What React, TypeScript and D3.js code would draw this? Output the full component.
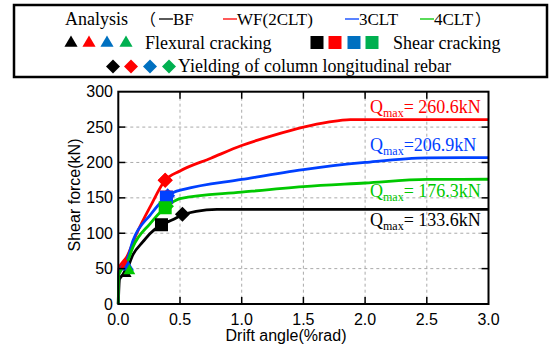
import React from 'react';
import * as d3 from 'd3';

// series (drift angle %rad, shear force kN)
const bfX = [0, 0.01, 0.06, 0.12, 0.2, 0.26, 0.35, 0.44, 0.52, 0.63, 0.8, 1.0, 3.0];
const bfY = [0, 35, 45, 70, 88, 100, 112, 119, 126, 131, 133.6, 133.6, 133.6];
const wfX = [0, 0.005, 0.07, 0.15, 0.26, 0.38, 0.5, 0.75, 1.0, 1.25, 1.5, 1.7, 1.88, 3.0];
const wfY = [0, 50, 67, 100, 138, 175, 188, 206, 224, 238, 250, 257, 260.6, 260.6];
const clt3X = [0, 0.005, 0.07, 0.12, 0.26, 0.36, 0.42, 0.45, 0.53, 1.0, 1.5, 2.0, 2.5, 3.0];
const clt3Y = [0, 45, 62, 90, 126, 146, 153, 158, 162, 176, 190, 200, 206.5, 206.9];
const clt4X = [0, 0.005, 0.07, 0.12, 0.26, 0.33, 0.4, 0.45, 0.5, 1.0, 1.5, 2.0, 2.5, 3.0];
const clt4Y = [0, 42, 58, 81, 114, 128, 138, 145, 149, 158, 166, 171, 176, 176.3];

const seriesNames = ['BF', 'WF(2CLT)', '3CLT', '4CLT'];
const lineColors = ['#000000', '#ff0000', '#0040ff', '#00c800'];
const markColors = ['#000000', '#ff0000', '#0070c0', '#00b050'];

// event markers, order BF, WF, 3CLT, 4CLT
const flexX = [0.06, 0.06, 0.08, 0.09];
const flexY = [43, 55, 52, 47];
const shearX = [0.35, 0.39, 0.39, 0.38];
const shearY = [112, 151, 151, 136];
const yieldX = [0.52, 0.38, 0.4, 0.39];
const yieldY = [127, 175, 153, 138];

const qmaxLabels = ['= 133.6kN', '= 260.6kN', '=206.9kN', '= 176.3kN'];
const qLabelY = [110, 270, 216.5, 151];
const xTicks = [0, 0.5, 1.0, 1.5, 2.0, 2.5, 3.0];
const yTicks = [0, 50, 100, 150, 200, 250, 300];

const sans = '"Liberation Sans", Arial, sans-serif';
const serif = '"Liberation Serif", "Times New Roman", serif';
const cjk = '"Noto Sans CJK SC", serif';

export default function App() {
  const x = d3.scaleLinear().domain([0, 3]).range([118.3, 488.5]);
  const y = d3.scaleLinear().domain([0, 300]).range([304, 91.7]);
  const line = d3.line<[number, number]>()
    .x(d => x(d[0]))
    .y(d => y(d[1]))
    .curve(d3.curveMonotoneX);

  const series = [
    d3.zip(bfX, bfY),
    d3.zip(wfX, wfY),
    d3.zip(clt3X, clt3Y),
    d3.zip(clt4X, clt4Y),
  ] as [number, number][][];

  const tri = d3.symbol().type(d3.symbolTriangle).size(75)();
  const tri2 = d3.symbol().type(d3.symbolTriangle).size(60)();
  const dia = (s: number) => `M0,${-s}L${s},0L0,${s}L${-s},0Z`;

  const [x0, x1] = x.range();
  const [y0, y1] = y.range();

  return (
    <svg width={549} height={350} style={{ position: 'absolute', left: 0, top: 0, background: '#fff' }}>
      {/* legend box */}
      <rect x={14} y={5} width={533} height={72} fill="none" stroke="#000" strokeWidth={2.5} />
      <g fontFamily={serif} fontSize={18}>
        <text x={65} y={25}>Analysis</text>
        <text x={140} y={25} fontFamily={cjk} fontSize={16}>（</text>
        {[159, 223, 345, 420].map((lx, i) => (
          <g key={i}>
            <line x1={lx} x2={lx + 14} y1={19} y2={19} stroke={lineColors[i]} strokeWidth={1.3} />
            <text x={lx + 14} y={25} fontSize={17}>{seriesNames[i]}</text>
          </g>
        ))}
        <text x={475} y={25} fontFamily={cjk} fontSize={16}>）</text>
        {[71, 89, 107, 126].map((cx, i) => (
          <path key={i} d={tri} transform={`translate(${cx},${43})`} fill={markColors[i]} />
        ))}
        <text x={145} y={49}>Flexural cracking</text>
        {[317, 335, 354, 372].map((cx, i) => (
          <rect key={i} x={cx - 6.5} y={36} width={13} height={13} fill={markColors[i]} />
        ))}
        <text x={393} y={49}>Shear cracking</text>
        {[113, 131, 150, 169].map((cx, i) => (
          <path key={i} d={dia(7)} transform={`translate(${cx},${66.5})`} fill={markColors[i]} />
        ))}
        <text x={178} y={72}>Yielding of column longitudinal rebar</text>
      </g>

      {/* grid */}
      {xTicks.slice(1, -1).map(t => (
        <line key={'gx' + t} x1={x(t)} x2={x(t)} y1={y1} y2={y0} stroke="#aaa" strokeDasharray="3,3" strokeWidth={1} />
      ))}
      {yTicks.slice(1, -1).map(t => (
        <line key={'gy' + t} x1={x0} x2={x1} y1={y(t)} y2={y(t)} stroke="#aaa" strokeDasharray="3,3" strokeWidth={1} />
      ))}

      {/* curves */}
      {series.map((s, i) => (
        <path key={i} d={line(s) ?? ''} fill="none" stroke={lineColors[i]} strokeWidth={2.8} />
      ))}

      {/* markers */}
      {flexX.map((fx, i) => (
        <path key={'f' + i} d={tri2} transform={`translate(${x(fx)},${y(flexY[i])})`} fill={lineColors[i]} />
      ))}
      {yieldX.map((yx, i) => (
        <path key={'y' + i} d={dia(7.5)} transform={`translate(${x(yx)},${y(yieldY[i])})`} fill={lineColors[i]} />
      ))}
      {shearX.map((sx, i) => (
        <rect key={'s' + i} x={x(sx) - 6.5} y={y(shearY[i]) - 6.5} width={13} height={13} fill={lineColors[i]} />
      ))}
      <path d={dia(7.5)} transform={`translate(${x(yieldX[1])},${y(yieldY[1])})`} fill={lineColors[1]} />

      {/* frame & ticks */}
      <rect x={x0} y={y1} width={x1 - x0} height={y0 - y1} fill="none" stroke="#000" strokeWidth={2} />
      {xTicks.slice(1, -1).map(t => (
        <g key={'tx' + t}>
          <line x1={x(t)} x2={x(t)} y1={y0} y2={y0 - 7} stroke="#000" strokeWidth={1.5} />
          <line x1={x(t)} x2={x(t)} y1={y1} y2={y1 + 7} stroke="#000" strokeWidth={1.5} />
        </g>
      ))}
      {yTicks.slice(1, -1).map(t => (
        <g key={'ty' + t}>
          <line x1={x0} x2={x0 + 7} y1={y(t)} y2={y(t)} stroke="#000" strokeWidth={1.5} />
          <line x1={x1} x2={x1 - 7} y1={y(t)} y2={y(t)} stroke="#000" strokeWidth={1.5} />
        </g>
      ))}

      {/* tick labels */}
      <g fontFamily={sans} fontSize={16} fill="#000">
        {xTicks.map(t => (
          <text key={'lx' + t} x={x(t)} y={325} textAnchor="middle">{t.toFixed(1)}</text>
        ))}
        {yTicks.map(t => (
          <text key={'ly' + t} x={113} y={y(t)} dy="0.35em" textAnchor="end">{t}</text>
        ))}
        <text x={286} y={341} textAnchor="middle">Drift angle(%rad)</text>
        <text x={0} y={0} textAnchor="middle" transform={`translate(80,${195}) rotate(-90)`}>Shear force(kN)</text>
      </g>

      {/* Qmax labels */}
      {qmaxLabels.map((lab, i) => (
        <text key={'q' + i} x={x(2.04)} y={y(qLabelY[i])} fontFamily={serif} fontSize={18} fill={lineColors[i]}>
          Q<tspan fontSize={12} dy={4}>max</tspan><tspan dy={-4}>{lab}</tspan>
        </text>
      ))}
    </svg>
  );
}
